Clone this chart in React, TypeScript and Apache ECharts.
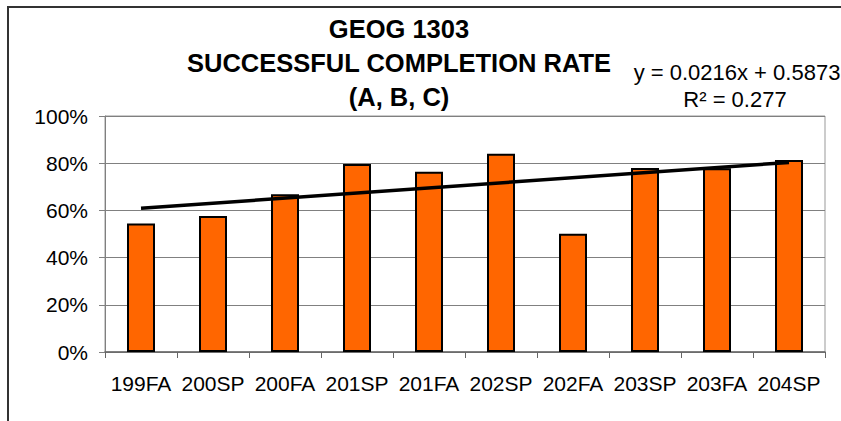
import React, { useEffect, useRef } from "react";
import * as echarts from "echarts";

const categories = ["199FA", "200SP", "200FA", "201SP", "201FA", "202SP", "202FA", "203SP", "203FA", "204SP"];
const completionRates = [0.544, 0.576, 0.668, 0.797, 0.764, 0.84, 0.501, 0.78, 0.779, 0.814];
// trendline endpoints (first & last category) as shown
const trendValues = [0.6089, 0.8033];
const titleLines = ["GEOG 1303", "SUCCESSFUL COMPLETION RATE", "(A, B, C)"];
const equationText = "y = 0.0216x + 0.5873";
const r2Text = "R\u00B2 = 0.277";

const FONT = "'Liberation Sans', Arial, Helvetica, sans-serif";

export default function App() {
  const ref = useRef<HTMLDivElement>(null);
  useEffect(() => {
    document.body.style.margin = "0";
    const chart = echarts.init(ref.current!, null, { renderer: "svg" });
    const n = categories.length;
    chart.setOption({
      animation: false,
      backgroundColor: "#ffffff",
      textStyle: { fontFamily: FONT },
      grid: {
        left: 105,
        top: 116,
        right: 16,
        bottom: 69,
        show: true,
        borderColor: "#999999",
        borderWidth: 1,
      },
      graphic: [
        {
          type: "rect",
          shape: { x: 8, y: 7, width: 1000, height: 1000 },
          style: { fill: "none", stroke: "#333333", lineWidth: 2 },
          silent: true,
        },
        {
          type: "text",
          x: 399,
          y: 12,
          style: {
            text: titleLines.join("\n"),
            font: `bold 25.5px ${FONT}`,
            fill: "#000",
            textAlign: "center",
            textVerticalAlign: "top",
            lineHeight: 34,
          },
        },
        {
          type: "text",
          x: 737,
          y: 72,
          style: {
            text: equationText,
            font: `22px ${FONT}`,
            fill: "#000",
            textAlign: "center",
            textVerticalAlign: "middle",
          },
        },
        {
          type: "text",
          x: 735,
          y: 99,
          style: {
            text: r2Text,
            font: `22px ${FONT}`,
            fill: "#000",
            textAlign: "center",
            textVerticalAlign: "middle",
          },
        },
      ],
      xAxis: {
        type: "category",
        data: categories,
        boundaryGap: true,
        axisLine: { show: true, lineStyle: { color: "#666666", width: 1.5 } },
        axisTick: { show: true, length: 6, alignWithLabel: false, lineStyle: { color: "#666666" } },
        axisLabel: { color: "#000", fontSize: 21, fontFamily: FONT, margin: 21, interval: 0 },
        splitLine: { show: false },
      },
      yAxis: {
        type: "value",
        min: 0,
        max: 1,
        interval: 0.2,
        axisLine: { show: true, lineStyle: { color: "#808080" } },
        axisTick: { show: true, length: 6, lineStyle: { color: "#808080" } },
        axisLabel: {
          color: "#000",
          fontSize: 21,
          fontFamily: FONT,
          margin: 17,
          formatter: (v: number) => `${Math.round(v * 100)}%`,
        },
        splitLine: { show: true, lineStyle: { color: "#808080", width: 1 } },
      },
      series: [
        {
          type: "bar",
          data: completionRates,
          barWidth: 28,
          itemStyle: { color: "#FF6600", borderColor: "#000000", borderWidth: 2 },
          z: 2,
        },
        {
          type: "line",
          data: [
            [0, trendValues[0]],
            [n - 1, trendValues[1]],
          ],
          symbol: "none",
          lineStyle: { color: "#000000", width: 3.5 },
          z: 3,
        },
      ],
    });
    return () => chart.dispose();
  }, []);
  return <div ref={ref} style={{ width: 841, height: 421 }} />;
}
